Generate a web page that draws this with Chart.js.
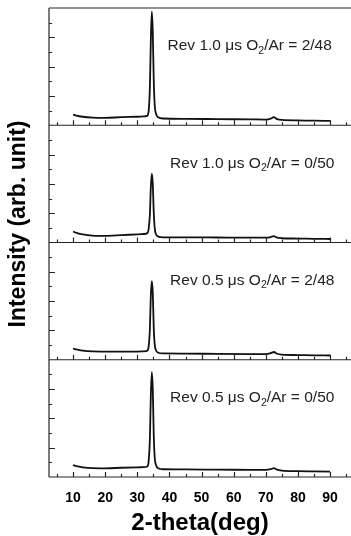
<!DOCTYPE html>
<html>
<head>
<meta charset="utf-8">
<script src="https://cdn.jsdelivr.net/npm/chart.js@4.4.1/dist/chart.umd.min.js"></script>
<style>
  html, body { margin: 0; padding: 0; background: #fff; overflow: hidden; }
  #wrap { width: 351px; height: 536px; }
</style>
</head>
<body>
<div id="wrap"><canvas id="xrdChart" width="351" height="536"></canvas></div>
<script>
// 2-theta sample positions (deg), shared by all four scans
const twoTheta = [10, 11, 13, 16, 20, 25, 30, 32, 33, 33.5, 33.9, 34.2, 34.5, 34.8, 35.1, 35.4, 35.8, 36.5, 38, 45, 55, 65, 70, 71.5, 72.5, 73.5, 75, 80, 85, 90];

// intensities (arb. unit), top panel first
const rev10_248 = [0.73, 0.66, 0.58, 0.52, 0.50, 0.55, 0.58, 0.60, 0.64, 0.95, 2.6, 5.8, 7.75, 6.4, 3.1, 1.4, 0.78, 0.54, 0.46, 0.44, 0.42, 0.40, 0.39, 0.45, 0.55, 0.42, 0.36, 0.33, 0.31, 0.30];
const rev10_050 = [0.75, 0.65, 0.55, 0.47, 0.45, 0.50, 0.56, 0.58, 0.62, 0.90, 1.9, 3.8, 4.7, 4.0, 2.1, 1.0, 0.56, 0.40, 0.35, 0.35, 0.34, 0.33, 0.33, 0.37, 0.43, 0.33, 0.29, 0.27, 0.25, 0.24];
const rev05_248 = [0.77, 0.70, 0.62, 0.57, 0.56, 0.56, 0.56, 0.57, 0.60, 0.88, 2.1, 4.4, 5.37, 4.6, 2.2, 1.05, 0.65, 0.48, 0.43, 0.42, 0.40, 0.39, 0.39, 0.45, 0.53, 0.41, 0.35, 0.32, 0.30, 0.29];
const rev05_050 = [0.82, 0.74, 0.66, 0.60, 0.59, 0.63, 0.66, 0.67, 0.70, 1.05, 2.6, 5.6, 7.16, 6.0, 2.9, 1.35, 0.82, 0.60, 0.53, 0.52, 0.50, 0.49, 0.48, 0.53, 0.60, 0.50, 0.44, 0.40, 0.38, 0.36];

const pulseRev = ['1.0', '1.0', '0.5', '0.5'];
const o2ArRatio = ['2/48', '0/50', '2/48', '0/50'];

const xTicks = [10, 20, 30, 40, 50, 60, 70, 80, 90];
const xMinorTicks = [5, 15, 25, 35, 45, 55, 65, 75, 85, 95];
const yTicks = [1, 2, 3, 4, 5, 6, 7];

const panels = [rev10_248, rev10_050, rev05_248, rev05_050];
const panelIds = ['p1', 'p2', 'p3', 'p4'];

Chart.defaults.font.family = '"Liberation Sans", Arial, sans-serif';

// frame, inward ticks, panel captions, y title
const framePlugin = {
    id: 'frame',
    afterDraw(chart) {
        const { ctx, chartArea: a, scales } = chart;
        const xs = scales.x;
        ctx.save();
        ctx.strokeStyle = '#262626';
        ctx.lineWidth = 1.2;
        ctx.beginPath();
        ctx.moveTo(a.left, a.top);
        ctx.lineTo(a.left, a.bottom);
        ctx.moveTo(a.left, a.top);
        ctx.lineTo(a.right, a.top);

        panelIds.forEach(id => {
            const ys = scales[id];
            const yb = ys.getPixelForValue(ys.min);
            ctx.moveTo(a.left, yb);
            ctx.lineTo(a.right, yb);

            xTicks.concat(xMinorTicks).forEach(v => {
                if (v < xs.min || v > xs.max) return;
                const px = Math.round(xs.getPixelForValue(v)) + 0.5;
                const len = v % 10 === 0 ? 5 : 3;
                ctx.moveTo(px, yb);
                ctx.lineTo(px, yb - len);
            });

            yTicks.forEach(v => {
                const py = Math.round(ys.getPixelForValue(v)) + 0.5;
                const len = v % 2 === 0 ? 6 : 3;
                ctx.moveTo(a.left, py);
                ctx.lineTo(a.left + len, py);
            });
        });
        ctx.stroke();

        // captions
        ctx.fillStyle = '#222';
        ctx.textBaseline = 'middle';
        ctx.textAlign = 'left';
        panelIds.forEach((id, i) => {
            const ys = scales[id];
            let px = xs.getPixelForValue(i === 0 ? 39.4 : 40.2);
            const py = ys.getPixelForValue(5.4);
            const head = 'Rev ' + pulseRev[i] + ' \u03bcs O';
            const tail = '/Ar = ' + o2ArRatio[i];
            ctx.font = '15.5px "Liberation Sans", Arial, sans-serif';
            ctx.fillText(head, px, py);
            px += ctx.measureText(head).width;
            ctx.font = '10.5px "Liberation Sans", Arial, sans-serif';
            ctx.fillText('2', px, py + 5);
            px += ctx.measureText('2').width;
            ctx.font = '15.5px "Liberation Sans", Arial, sans-serif';
            ctx.fillText(tail, px, py);
        });

        // y title
        ctx.translate(19, 224);
        ctx.rotate(-Math.PI / 2);
        ctx.textAlign = 'center';
        ctx.fillStyle = '#000';
        ctx.font = 'bold 23px "Liberation Sans", Arial, sans-serif';
        ctx.fillText('Intensity (arb. unit)', 0, 0);
        ctx.restore();
    }
};

const yScales = {};
panelIds.forEach((id, i) => {
    yScales[id] = {
        type: 'linear',
        display: false,
        min: 0,
        max: 8,
        stack: 'panels',
        stackWeight: 1,
        weight: 4 - i
    };
});

new Chart(document.getElementById('xrdChart'), {
    type: 'line',
    data: {
        datasets: panels.map((vals, i) => ({
            label: 'Rev ' + pulseRev[i] + ' O2/Ar = ' + o2ArRatio[i],
            data: twoTheta.map((t, k) => ({ x: t, y: vals[k] })),
            yAxisID: panelIds[i],
            borderColor: '#111',
            borderWidth: 1.8,
            pointRadius: 0,
            fill: false,
            cubicInterpolationMode: 'monotone'
        }))
    },
    options: {
        responsive: false,
        animation: false,
        layout: { padding: { left: 49, top: 8, right: 0, bottom: 1 } },
        plugins: {
            legend: { display: false },
            tooltip: { enabled: false }
        },
        scales: {
            x: {
                type: 'linear',
                min: 2.5,
                max: 96.5,
                grid: { display: false, drawTicks: false },
                border: { display: false },
                afterBuildTicks: s => { s.ticks = xTicks.map(v => ({ value: v })); },
                afterFit: s => { s.height = 58; },
                ticks: {
                    color: '#000',
                    padding: 13,
                    font: { size: 14, weight: 'bold' }
                },
                title: {
                    display: true,
                    text: '2-theta(deg)',
                    color: '#000',
                    padding: { top: 0, bottom: 0 },
                    font: { size: 24, weight: 'bold', lineHeight: 1.0 }
                }
            },
            ...yScales
        }
    },
    plugins: [framePlugin]
});
</script>
</body>
</html>
